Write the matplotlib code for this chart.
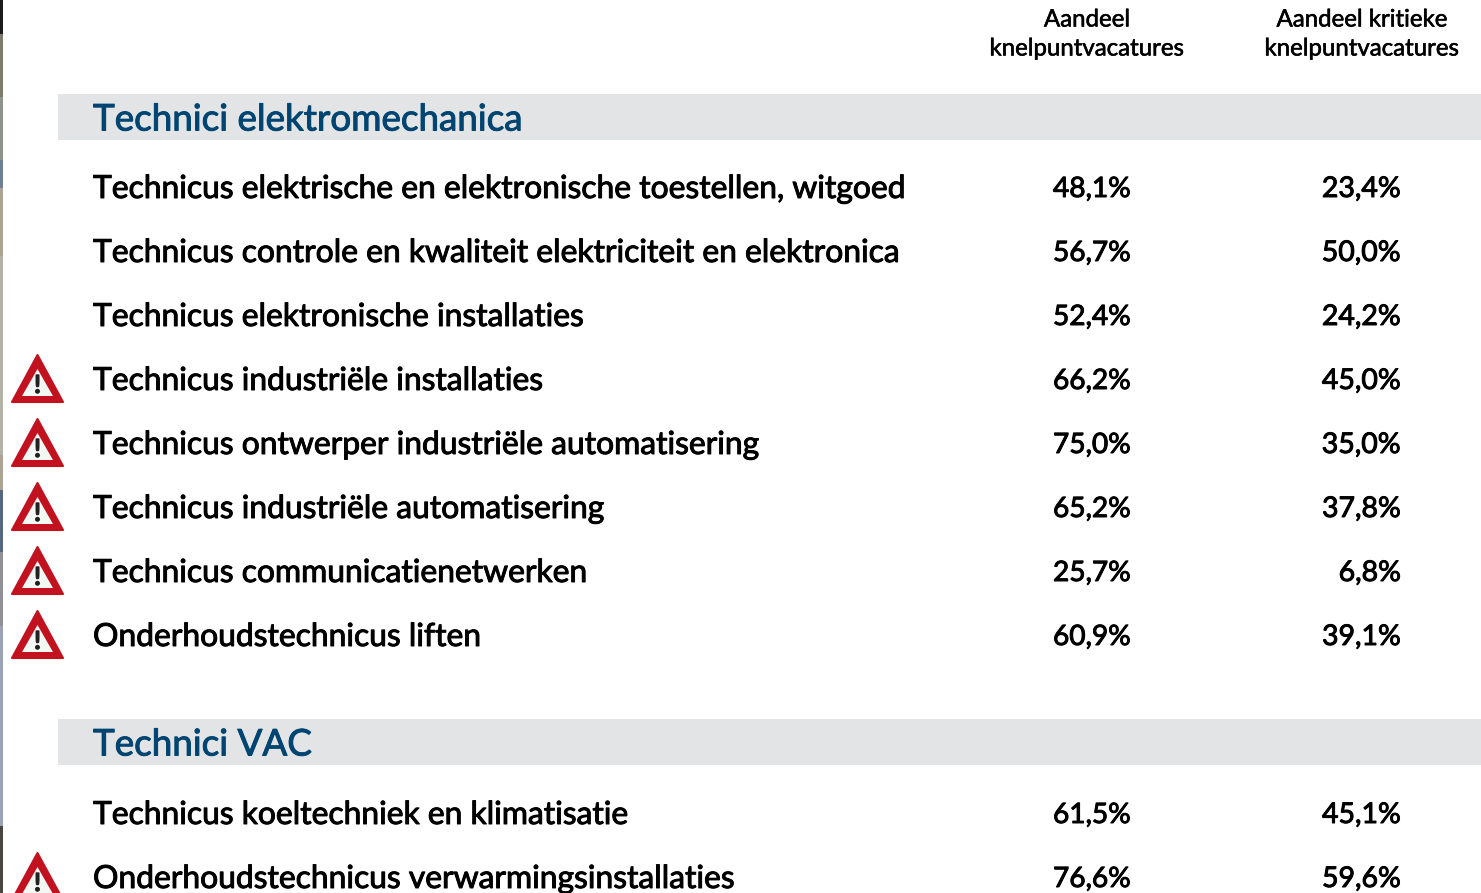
import matplotlib
matplotlib.use("Agg")
import matplotlib.pyplot as plt
import matplotlib.patheffects as pe
from matplotlib.patches import Polygon, Rectangle

plt.rcParams['font.family'] = ['Lato', 'DejaVu Sans']

W, H = 1481, 893

# kop van de kolommen
col_heads = [["Aandeel", "knelpuntvacatures"], ["Aandeel kritieke", "knelpuntvacatures"]]

# eerste groep
group1 = "Technici elektromechanica"
labels1 = ["Technicus elektrische en elektronische toestellen, witgoed",
           "Technicus controle en kwaliteit elektriciteit en elektronica",
           "Technicus elektronische installaties",
           "Technicus industriële installaties",
           "Technicus ontwerper industriële automatisering",
           "Technicus industriële automatisering",
           "Technicus communicatienetwerken",
           "Onderhoudstechnicus liften"]
knelpunt1 = ["48,1%", "56,7%", "52,4%", "66,2%", "75,0%", "65,2%", "25,7%", "60,9%"]
kritiek1 = ["23,4%", "50,0%", "24,2%", "45,0%", "35,0%", "37,8%", "6,8%", "39,1%"]
waarschuwing1 = [0, 0, 0, 1, 1, 1, 1, 1]

# tweede groep
group2 = "Technici VAC"
labels2 = ["Technicus koeltechniek en klimatisatie",
           "Onderhoudstechnicus verwarmingsinstallaties"]
knelpunt2 = ["61,5%", "76,6%"]
kritiek2 = ["45,1%", "59,6%"]
waarschuwing2 = [0, 1]

# rand links (stukje van een ander venster op de screenshot)
rand_y = [0, 34, 97, 160, 188, 256, 455, 490, 552, 626, 826, 893]
rand_kleur = ['#1c1a1a', '#807a6c', '#8a9488', '#6f7f94', '#ada392', '#b4b2a6',
              '#ada392', '#56687e', '#8e9094', '#9aa2b4', '#4a463f']


def dik(kleur, w=0.7):
    # iets vetter dan regular, Lato medium is er niet
    return [pe.withStroke(linewidth=w, foreground=kleur)]


def triangle(ax, yc):
    # waarschuwingsbord: rode rand, wit binnen, uitroepteken
    ax.add_patch(Polygon([(12, yc+21), (63, yc+21), (37.5, yc-26)], closed=True,
                         fc='#c2121f', ec='#c2121f', lw=1.5, joinstyle='round', zorder=3))
    ax.add_patch(Polygon([(22, yc+15), (53, yc+15), (37.5, yc-12)], closed=True,
                         fc='#f4f8f4', ec='none', zorder=4))
    ax.text(37.5, yc+12, "!", fontsize=18, fontweight='bold', color='#222222',
            ha='center', va='baseline', zorder=5, path_effects=dik('#222222', 0.8))


def rows(ax, labels, kn, kr, warn, y0):
    for i in range(len(labels)):
        y = y0 + i*64
        ax.text(93, y, labels[i], fontsize=22.9, color='black', va='center',
                path_effects=dik('black'))
        ax.text(1053, y, kn[i], fontsize=20.2, color='black', va='center', ha='left',
                path_effects=dik('black'))
        ax.text(1401, y, kr[i], fontsize=20.5, color='black', va='center', ha='right',
                path_effects=dik('black'))
        if warn[i]:
            triangle(ax, y)


fig = plt.figure(figsize=(W/100, H/100), dpi=100)
ax = fig.add_axes([0, 0, 1, 1])
ax.set_xlim(0, W)
ax.set_ylim(H, 0)
ax.axis('off')

for i in range(len(rand_kleur)):
    ax.add_patch(Rectangle((0, rand_y[i]), 2.5, rand_y[i+1]-rand_y[i], fc=rand_kleur[i], ec='none'))

for x, kop in zip([1087, 1362], col_heads):
    ax.text(x, 20, kop[0], fontsize=17.3, ha='center', va='center', path_effects=dik('black', 0.4))
    ax.text(x, 49, kop[1], fontsize=17.3, ha='center', va='center', path_effects=dik('black', 0.4))

for name, ytop in [(group1, 94), (group2, 719)]:
    ax.add_patch(Rectangle((58, ytop), W-58, 46, fc='#e3e4e6', ec='none'))
    ax.text(93, ytop+26, name, fontsize=26.5, color='#004571', va='center',
            path_effects=dik('#004571'))

rows(ax, labels1, knelpunt1, kritiek1, waarschuwing1, 189)
rows(ax, labels2, knelpunt2, kritiek2, waarschuwing2, 815)

fig.savefig("out.png", dpi=100)
